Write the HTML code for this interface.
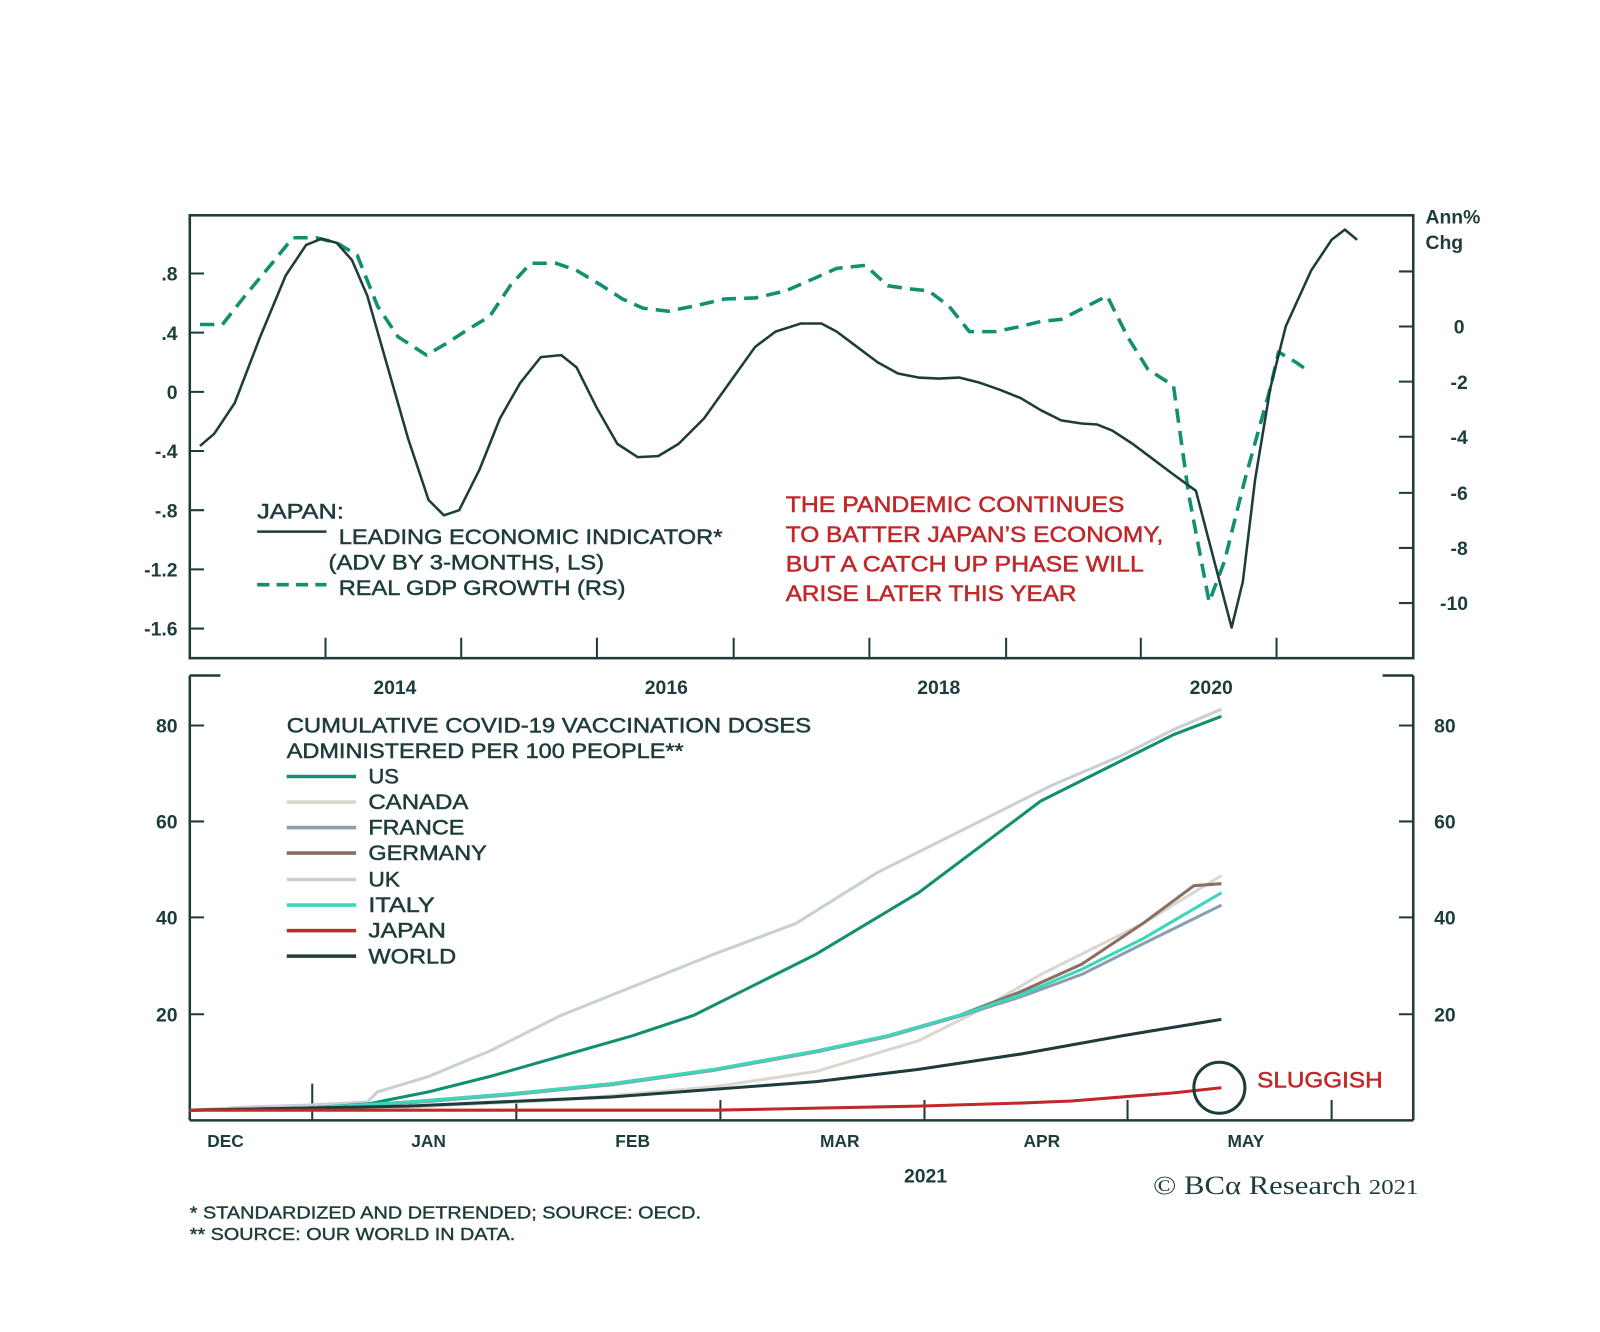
<!DOCTYPE html>
<html><head><meta charset="utf-8"><style>
html,body{margin:0;padding:0;background:#fff;}
svg{display:block;font-family:"Liberation Sans",Arial,sans-serif;}
</style></head><body>
<svg width="1600" height="1332" viewBox="0 0 1600 1332" xmlns="http://www.w3.org/2000/svg">
<g transform="scale(1.0204)">
<g fill="none" stroke="#1e3c3c" stroke-width="2.5">
<rect x="186" y="211" width="1199" height="434"/>
<path d="M186 1098 H1385 M186 662 V1098 M1385 662 V1098 M186 662 H216 M1355 662 H1385"/>
</g>
<g stroke="#1e3c3c" stroke-width="2">
<path d="M186 268h14M186 326h14M186 384h14M186 442h14M186 500h14M186 558h14M186 616h14"/>
<path d="M1371 266h14M1371 320h14M1371 374h14M1371 428h14M1371 483h14M1371 537h14M1371 591h14"/>
<path d="M319 645v-20M452 645v-20M585 645v-20M719 645v-20M852 645v-20M986 645v-20M1118 645v-20M1251 645v-20"/>
<path d="M186 711h14M186 805h14M186 899h14M186 994h14M1371 711h14M1371 805h14M1371 899h14M1371 994h14"/>
<path d="M306 1098v-36M506 1098v-20M706 1098v-20M906 1098v-20M1105 1098v-20M1305 1098v-20"/>
</g>
<g fill="#1e3c3c" font-size="19" font-weight="bold">
<g text-anchor="end"><text x="174" y="275">.8</text><text x="174" y="333">.4</text><text x="174" y="391">0</text><text x="174" y="449">-.4</text><text x="174" y="507">-.8</text><text x="174" y="565">-1.2</text><text x="174" y="623">-1.6</text>
<text x="174" y="718">80</text><text x="174" y="812">60</text><text x="174" y="906">40</text><text x="174" y="1001">20</text></g>
<g text-anchor="middle"><text x="1430" y="327">0</text><text x="1430" y="381">-2</text><text x="1430" y="435">-4</text><text x="1430" y="490">-6</text><text x="1430" y="544">-8</text><text x="1425" y="598">-10</text>
<text x="1416" y="718">80</text><text x="1416" y="812">60</text><text x="1416" y="906">40</text><text x="1416" y="1001">20</text>
<text x="387" y="680">2014</text><text x="653" y="680">2016</text><text x="920" y="680">2018</text><text x="1187" y="680">2020</text>
<text x="907" y="1159">2021</text></g>
<text x="1397" y="219">Ann%</text><text x="1397" y="244">Chg</text>
<g font-size="17" text-anchor="middle"><text x="221" y="1124">DEC</text><text x="420" y="1124">JAN</text><text x="620" y="1124">FEB</text><text x="823" y="1124">MAR</text><text x="1021" y="1124">APR</text><text x="1221" y="1124">MAY</text></g>
<g font-weight="normal" font-size="21" stroke="#1e3c3c" stroke-width="0.5">
<text x="252" y="508" textLength="85" lengthAdjust="spacingAndGlyphs">JAPAN:</text>
<text x="332" y="533" textLength="376" lengthAdjust="spacingAndGlyphs">LEADING ECONOMIC INDICATOR*</text>
<text x="322" y="558" textLength="270" lengthAdjust="spacingAndGlyphs">(ADV BY 3-MONTHS, LS)</text>
<text x="332" y="583" textLength="281" lengthAdjust="spacingAndGlyphs">REAL GDP GROWTH (RS)</text>
<text x="281" y="718" textLength="514" lengthAdjust="spacingAndGlyphs">CUMULATIVE COVID-19 VACCINATION DOSES</text>
<text x="281" y="743" textLength="389" lengthAdjust="spacingAndGlyphs">ADMINISTERED PER 100 PEOPLE**</text>
<text x="361" y="768" textLength="30" lengthAdjust="spacingAndGlyphs">US</text>
<text x="361" y="793" textLength="98" lengthAdjust="spacingAndGlyphs">CANADA</text>
<text x="361" y="818" textLength="94" lengthAdjust="spacingAndGlyphs">FRANCE</text>
<text x="361" y="843" textLength="116" lengthAdjust="spacingAndGlyphs">GERMANY</text>
<text x="361" y="869" textLength="31" lengthAdjust="spacingAndGlyphs">UK</text>
<text x="361" y="894" textLength="65" lengthAdjust="spacingAndGlyphs">ITALY</text>
<text x="361" y="919" textLength="76" lengthAdjust="spacingAndGlyphs">JAPAN</text>
<text x="361" y="944" textLength="86" lengthAdjust="spacingAndGlyphs">WORLD</text></g>
<g font-weight="normal" font-size="17" stroke="#1e3c3c" stroke-width="0.4"><text x="186" y="1194" textLength="501" lengthAdjust="spacingAndGlyphs">*  STANDARDIZED AND DETRENDED; SOURCE: OECD.</text><text x="186" y="1215" textLength="319" lengthAdjust="spacingAndGlyphs">** SOURCE: OUR WORLD IN DATA.</text></g>
</g>
<g fill="#c0282a" font-size="22" stroke="#c0282a" stroke-width="0.5">
<text x="770" y="502" textLength="332" lengthAdjust="spacingAndGlyphs">THE PANDEMIC CONTINUES</text>
<text x="770" y="531" textLength="370" lengthAdjust="spacingAndGlyphs">TO BATTER JAPAN’S ECONOMY,</text>
<text x="770" y="560" textLength="351" lengthAdjust="spacingAndGlyphs">BUT A CATCH UP PHASE WILL</text>
<text x="770" y="589" textLength="285" lengthAdjust="spacingAndGlyphs">ARISE LATER THIS YEAR</text>
<text x="1232" y="1066" textLength="123" lengthAdjust="spacingAndGlyphs">SLUGGISH</text></g>
<text x="1130" y="1170" font-family="Liberation Serif,serif" font-size="26" fill="#1e3c3c" textLength="260" lengthAdjust="spacingAndGlyphs">© BCα Research <tspan font-size="21">2021</tspan></text>
<g fill="none" stroke-width="3.5">
<path stroke="#119070" d="M281 761h68"/><path stroke="#d8d8d0" d="M281 786h68"/><path stroke="#8a9fb0" d="M281 811h68"/><path stroke="#8a7060" d="M281 836h68"/><path stroke="#c8d0d4" d="M281 862h68"/><path stroke="#3dd6b9" d="M281 887h68"/><path stroke="#c0282a" d="M281 912h68"/><path stroke="#1e3c3c" d="M281 937h68"/>
<path stroke="#1e3c3c" stroke-width="2.5" d="M252 521h68"/><path stroke="#119070" stroke-dasharray="12,7" d="M252 573h68"/>
</g>
<g fill="none" stroke-linejoin="round">
<polyline stroke="#119070" stroke-width="3.5" stroke-dasharray="14,8" points="196,318 218,318 240,290 265,260 287,233 310,233 330,238 350,250 370,300 390,330 418,348 440,335 460,322 480,310 500,280 520,258 545,258 565,265 590,280 610,293 630,302 655,305 680,300 710,293 740,292 770,285 800,272 820,263 848,260 870,280 890,283 910,285 930,300 950,325 975,325 1000,320 1020,315 1040,313 1085,290 1105,330 1125,362 1150,378 1165,485 1185,590 1200,550 1220,470 1245,380 1253,345 1270,355 1280,362"/>
<polyline stroke="#1e3c3c" stroke-width="2.5" points="196,437 210,425 230,395 255,330 280,270 300,240 315,234 330,238 345,255 360,290 380,360 400,430 420,490 435,505 450,500 470,460 490,410 510,375 530,350 550,348 565,360 585,400 605,435 625,448 645,447 665,435 690,410 715,375 740,340 760,325 785,317 805,317 820,325 840,340 860,355 880,366 900,370 920,371 940,370 960,375 980,382 1000,390 1020,402 1040,412 1060,415 1075,416 1090,422 1110,435 1130,450 1150,465 1172,481 1190,550 1207,615 1218,570 1230,470 1245,380 1260,320 1285,265 1305,235 1318,225 1330,235"/>
<g stroke-width="3">
<polyline stroke="#d8d8d0" points="186,1088 400,1085 550,1078 700,1065 800,1050 900,1020 960,990 1020,955 1070,930 1120,905 1197,858"/>
<polyline stroke="#c8d0d4" points="186,1088 240,1085 300,1083 360,1080 370,1070 420,1055 480,1030 550,995 600,975 700,935 780,905 860,855 920,825 970,800 1030,770 1100,740 1150,715 1197,695"/>
<polyline stroke="#119070" points="186,1088 300,1086 360,1082 420,1070 480,1055 550,1035 620,1015 680,995 740,965 800,935 850,905 900,875 960,830 1020,785 1080,755 1150,720 1197,702"/>
<polyline stroke="#8a7060" points="186,1088 300,1086 400,1080 500,1072 600,1062 700,1048 800,1030 870,1015 940,995 1000,972 1060,945 1120,905 1170,868 1197,866"/>
<polyline stroke="#8a9fb0" points="186,1088 300,1086 400,1081 500,1073 600,1063 700,1049 800,1031 870,1016 940,996 1000,977 1060,955 1120,925 1197,887"/>
<polyline stroke="#3dd6b9" points="186,1088 300,1086 400,1080 500,1072 600,1062 700,1048 800,1030 870,1015 940,995 1000,975 1060,950 1120,920 1197,875"/>
<polyline stroke="#1e3c3c" points="186,1088 400,1084 600,1075 800,1060 900,1048 1000,1033 1100,1015 1197,999"/>
<polyline stroke="#c0282a" points="186,1088 700,1088 800,1086 900,1084 1000,1081 1050,1079 1100,1075 1150,1071 1197,1066"/>
</g>
<circle cx="1195" cy="1066" r="25" stroke="#1e3c3c" stroke-width="3"/>
</g>
</g>
</svg>
</body></html>
